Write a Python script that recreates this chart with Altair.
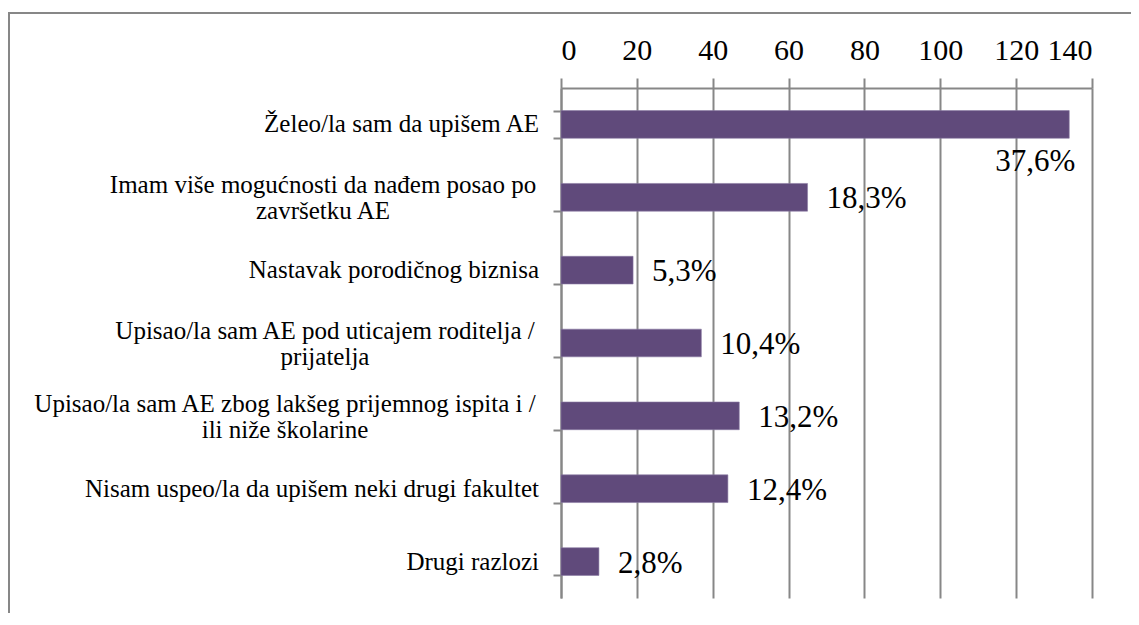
import altair as alt
import pandas as pd

categories = [
    "Želeo/la sam da upišem AE",
    "Imam više mogućnosti da nađem posao po\nzavršetku AE",
    "Nastavak porodičnog biznisa",
    "Upisao/la sam AE pod uticajem roditelja /\nprijatelja",
    "Upisao/la sam AE zbog lakšeg prijemnog ispita i /\nili niže školarine",
    "Nisam uspeo/la da upišem neki drugi fakultet",
    "Drugi razlozi",
]
counts = [134, 65, 19, 37, 47, 44, 10]
percent_labels = ["37,6%", "18,3%", "5,3%", "10,4%", "13,2%", "12,4%", "2,8%"]
x_ticks = [0, 20, 40, 60, 80, 100, 120, 140]

df = pd.DataFrame({"category": categories, "count": counts, "label": percent_labels})

GRID = "#878787"
BAR = "#604A7B"
FONT = "Liberation Serif"

y_enc = alt.Y(
    "category:N",
    sort=None,
    scale=alt.Scale(paddingInner=0.62, paddingOuter=0.31),
    axis=alt.Axis(
        title=None,
        labels=False,
        tickBand="extent",
        tickSize=8,
        tickColor=GRID,
        tickWidth=2,
        domainColor=GRID,
        domainWidth=2,
        grid=False,
    ),
)
x_enc = alt.X(
    "count:Q",
    scale=alt.Scale(domain=[0, 140]),
    axis=alt.Axis(
        orient="top",
        values=x_ticks,
        title=None,
        labelFontSize=30,
        labelFont=FONT,
        labelColor="black",
        labelPadding=13,
        tickSize=10,
        tickColor=GRID,
        tickWidth=2,
        domainColor=GRID,
        domainWidth=2,
        gridColor=GRID,
        gridWidth=2,
        gridOpacity=1,
    ),
)
y_plain = alt.Y("category:N", sort=None)

base = alt.Chart(df)
bars = base.mark_bar(color=BAR, stroke="#8a7aa3", strokeWidth=0.6).encode(x=x_enc, y=y_enc)

# category labels (single-line: right aligned next to the axis)
cat_single = base.transform_filter("indexof(datum.category, '\\n') < 0").mark_text(
    align="right", baseline="middle", dx=-22, fontSize=25, font=FONT, color="black"
).encode(x=alt.datum(0), y=y_plain, text="category:N")


def cat_multi(key, shift):
    return base.transform_filter(f"indexof(datum.category, '{key}') >= 0").mark_text(
        align="center", baseline="middle", dx=shift, dy=-12, lineBreak="\n",
        lineHeight=26, fontSize=25, font=FONT, color="black"
    ).encode(x=alt.datum(0), y=y_plain, text="category:N")


cat_m1 = cat_multi("Imam", -238)
cat_m2 = cat_multi("roditelja", -236)
cat_m3 = cat_multi("lakšeg", -276)

labels_out = base.transform_filter("datum.count < 120").mark_text(
    align="left", baseline="middle", dx=19, dy=2, fontSize=31, font=FONT, color="black"
).encode(x="count:Q", y=y_plain, text="label:N")

labels_big = base.transform_filter("datum.count >= 120").mark_text(
    align="right", baseline="middle", dx=6, dy=38, fontSize=31, font=FONT, color="black"
).encode(x="count:Q", y=y_plain, text="label:N")

frame = alt.Chart(alt.Data(values=[{"f": 1}])).mark_rect(
    filled=False, stroke=GRID, strokeWidth=2
).encode(x=alt.value(-552), x2=alt.value(800), y=alt.value(-75), y2=alt.value(800))

chart = (
    alt.layer(frame, bars, cat_single, cat_m1, cat_m2, cat_m3, labels_out, labels_big)
    .properties(
        width=531,
        height=510,
        padding={"left": 553, "top": 80, "right": 39, "bottom": 15},
        autosize="none",
        background="white",
    )
    .configure_view(stroke=None)
)

chart.save("out.html", embed_options={"renderer": "svg", "actions": False})
